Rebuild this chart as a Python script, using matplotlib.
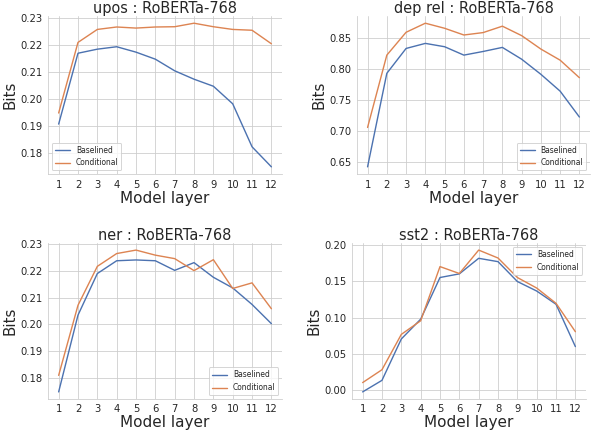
import numpy as np
import matplotlib
matplotlib.use("Agg")
import matplotlib.pyplot as plt
import seaborn as sns

layers = np.arange(1, 13)

upos_base = [0.1906, 0.2168, 0.2183, 0.2192, 0.2172, 0.2146, 0.2103, 0.2072, 0.2046, 0.1981, 0.1822, 0.1748]
upos_cond = [0.1947, 0.2208, 0.2256, 0.2265, 0.2261, 0.2265, 0.2266, 0.2279, 0.2266, 0.2256, 0.2253, 0.2203]

dep_base = [0.6418, 0.7933, 0.8336, 0.8418, 0.8364, 0.8228, 0.8287, 0.8353, 0.8162, 0.7917, 0.7644, 0.7225]
dep_cond = [0.7056, 0.8228, 0.8598, 0.8745, 0.8663, 0.8554, 0.8593, 0.8697, 0.8544, 0.8326, 0.8146, 0.7862]

ner_base = [0.1747, 0.2035, 0.2191, 0.2239, 0.2242, 0.2239, 0.2203, 0.2232, 0.2177, 0.2137, 0.2075, 0.2003]
ner_cond = [0.1809, 0.2072, 0.2218, 0.2266, 0.2279, 0.2260, 0.2247, 0.2202, 0.2243, 0.2135, 0.2156, 0.2059]

sst2_base = [-0.0023, 0.0136, 0.0705, 0.0977, 0.1550, 0.1600, 0.1814, 0.1768, 0.1495, 0.1364, 0.1182, 0.0600]
sst2_cond = [0.0105, 0.0282, 0.0768, 0.0955, 0.1700, 0.1605, 0.1927, 0.1818, 0.1550, 0.1405, 0.1195, 0.0805]

sns.set_style("whitegrid")
plt.rcParams['font.family'] = ['DejaVu Sans']

fig = plt.figure(figsize=(592 / 72, 432 / 72), dpi=72)

panels = [
    ("upos : RoBERTa-768", upos_base, upos_cond, "lower left", [0.0811, 0.5972, 0.3953, 0.3657]),
    ("dep rel : RoBERTa-768", dep_base, dep_cond, "lower right", [0.6030, 0.5972, 0.3936, 0.3657]),
    ("ner : RoBERTa-768", ner_base, ner_cond, "lower right", [0.0811, 0.0764, 0.3953, 0.3611]),
    ("sst2 : RoBERTa-768", sst2_base, sst2_cond, "upper right", [0.5946, 0.0764, 0.3953, 0.3611]),
]

blue = '#4C72B0'
orange = '#DD8452'

for title, base, cond, loc, pos in panels:
    ax = fig.add_axes(pos)
    ax.plot(layers, base, color=blue, lw=1.4, label='Baselined')
    ax.plot(layers, cond, color=orange, lw=1.4, label='Conditional')
    ax.set_xticks(layers)
    ax.yaxis.set_major_formatter(matplotlib.ticker.FormatStrFormatter('%.2f'))
    ax.tick_params(labelsize=10, pad=2)
    ax.set_title(title, fontsize=14.5, pad=3)
    ax.set_xlabel('Model layer', fontsize=15.3, labelpad=1)
    ax.set_ylabel('Bits', fontsize=15, labelpad=3)
    ax.legend(loc=loc, fontsize=7.5, frameon=True)
    sns.despine(ax=ax)

plt.savefig('out.png', dpi=72)
